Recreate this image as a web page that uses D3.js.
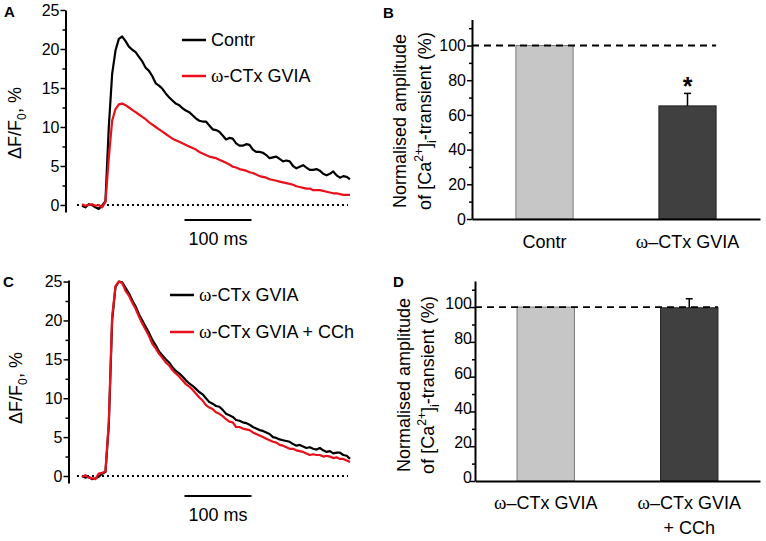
<!DOCTYPE html>
<html>
<head>
<meta charset="utf-8">
<script src="https://cdn.jsdelivr.net/npm/d3@7"></script>
<style>
  body { margin: 0; background: #fff; }
  svg { display: block; }
</style>
</head>
<body>
<script>
// ---- data ----
// time grid of the traces (ms, from start of record)
const sampleMs = [0,5,10,15,20,25,30,35,40,45,50,55,60,65,70,75,80,85,90,95,
  100,105,110,115,120,125,130,135,140,145,150,155,160,165,170,175,180,185,190,195,
  200,205,210,215,220,225,230,235,240,245,250,255,260,265,270,275,280,285,290,295,
  300,305,310,315,320,325,330,335,340,345,350,355,360,365,370,375,380,385,390,395,400];

// panel A, dF/F0 (%)
const contrA = [-0.1,-0.3,0.1,0.0,-0.3,-0.5,-0.1,0.5,10.0,16.8,
  19.8,21.3,21.6,21.0,20.3,19.9,19.6,19.0,18.4,17.6,
  17.2,16.5,15.6,15.3,14.9,14.3,13.8,13.4,13.0,12.8,
  12.4,12.1,11.9,11.5,11.1,10.8,10.7,10.7,10.2,9.7,
  9.6,9.4,8.9,8.4,8.6,8.5,7.9,7.6,7.6,7.8,
  7.7,7.1,6.8,6.8,6.7,6.4,6.0,6.1,6.2,5.9,
  5.6,5.7,5.6,5.0,4.7,4.9,5.1,4.8,4.5,4.5,
  4.6,4.4,4.0,3.8,4.0,4.3,3.8,3.5,3.7,3.6,3.3];
const ctxA = [0.1,-0.1,0.0,0.1,-0.1,0.0,-0.3,0.4,6.0,10.8,
  12.3,12.9,13.0,12.8,12.5,12.2,11.9,11.6,11.3,11.0,
  10.6,10.3,10.0,9.7,9.4,9.1,8.8,8.5,8.3,8.1,
  7.9,7.7,7.5,7.3,7.1,6.8,6.6,6.4,6.2,6.1,
  6.0,5.8,5.6,5.4,5.2,4.9,4.8,4.6,4.5,4.4,
  4.2,4.1,3.9,3.7,3.6,3.5,3.3,3.2,3.1,3.0,
  2.9,2.8,2.7,2.6,2.4,2.3,2.2,2.1,2.1,1.9,
  1.9,1.9,1.8,1.7,1.6,1.5,1.5,1.4,1.3,1.3,1.3];

// panel C, dF/F0 (%)
const ctxC = [0.0,-0.2,-0.1,-0.4,-0.3,-0.1,0.3,0.5,6.5,20.0,
  24.3,25.0,24.9,24.2,23.5,22.6,21.8,20.8,20.0,19.2,
  18.4,17.5,16.8,16.0,15.5,15.0,14.6,14.0,13.5,13.2,
  12.8,12.3,11.9,11.6,11.2,10.8,10.5,10.0,9.5,9.3,
  9.0,8.9,8.5,8.0,7.8,7.6,7.2,7.1,6.9,6.8,
  6.6,6.3,6.1,5.9,5.8,5.6,5.4,5.0,4.9,4.7,
  4.6,4.5,4.4,4.1,3.9,4.0,3.8,3.6,3.7,3.5,
  3.4,3.6,3.3,3.1,3.2,2.9,3.0,3.0,2.7,2.6,2.2];
const ctxCchC = [-0.1,0.1,-0.2,-0.3,-0.4,0.3,0.4,0.6,7.0,20.5,
  24.4,25.0,24.8,23.8,23.2,22.3,21.5,20.5,19.6,18.8,
  18.0,17.0,16.4,15.7,15.2,14.6,14.2,13.6,13.2,12.8,
  12.3,11.8,11.5,11.1,10.6,10.1,9.7,9.1,8.8,8.6,
  8.2,8.0,7.7,7.3,7.0,6.9,6.3,6.3,6.1,6.0,
  5.9,5.6,5.4,5.2,5.0,4.8,4.6,4.4,4.3,4.0,
  3.9,3.7,3.5,3.5,3.3,3.2,3.1,2.9,2.7,2.8,
  2.7,2.7,2.5,2.6,2.5,2.3,2.4,2.2,2.2,2.0,1.8];

const zeroSpanMs = [-7.5, 397];
const scaleBarMs = [153, 253];
const traceTicks = [0,5,10,15,20,25];
const traceMinor = [2.5,7.5,12.5,17.5,22.5];

// bar panels, normalised amplitude (%)
const catsB = ["Contr", "ω–CTx GVIA"];
const meanB = [100, 65.2];
const semB = [0, 7.2];
const catsD = ["ω–CTx GVIA", "ω–CTx GVIA + CCh"];
const meanD = [100, 99.6];
const semD = [0, 5.2];
const ampTicks = [0,20,40,60,80,100];
const ampMinor = [10,30,50,70,90,110];
const barFills = ["#c6c6c6", "#404040"];
const barEdges = ["#7a7a7a", "#222"];

const FONT = "'Liberation Sans', Arial, Helvetica, sans-serif";
const SERIF = "'Liberation Serif', 'Times New Roman', serif";

const svg = d3.select("body").append("svg")
  .attr("width", 766).attr("height", 541)
  .style("font-family", FONT);

// writes label parts; parts: [text, kind] with kind "", "sub", "sup", "omega"
function richText(sel, parts, size){
  var shift = 0;
  parts.forEach(function(p){
    var t = sel.append("tspan").text(p[0]);
    var target = 0;
    if(p[1] == "sub") target = 0.3*size;
    if(p[1] == "sup") target = -0.45*size;
    if(target != shift) { t.attr("dy", target - shift); shift = target; }
    if(p[1] == "sub" || p[1] == "sup") t.attr("font-size", size*0.68);
    if(p[1] == "omega") t.attr("font-family", SERIF).attr("font-size", size*1.05);
  });
  if(shift != 0) sel.append("tspan").attr("dy", -shift).text("");
}

function styleAxis(ax){
  ax.select(".domain").attr("stroke-width", 2);
  ax.selectAll(".tick line").attr("stroke-width", 1.5);
  ax.selectAll("text").attr("font-family", FONT).attr("font-size", 16).attr("fill", "#000");
}

function tracePanel(cfg){
  var g = svg.append("g");
  var x = d3.scaleLinear().domain([0, 400]).range(cfg.xRange);
  var y = d3.scaleLinear().domain(cfg.yDomain).range(cfg.yRange);

  // dotted zero level
  g.append("line")
    .attr("x1", x(zeroSpanMs[0])).attr("x2", x(zeroSpanMs[1]))
    .attr("y1", y(0)).attr("y2", y(0))
    .attr("stroke", "#000").attr("stroke-width", 2)
    .attr("stroke-dasharray", "2,3");

  var ax = g.append("g")
    .attr("transform", "translate(" + cfg.axisX + ",0)")
    .call(d3.axisLeft(y).tickValues(traceTicks).tickSize(5).tickPadding(1).tickSizeOuter(0));
  styleAxis(ax);
  g.append("g")
    .attr("transform", "translate(" + cfg.axisX + ",0)")
    .call(d3.axisLeft(y).tickValues(traceMinor).tickSize(3).tickFormat(""))
    .call(a => a.select(".domain").remove())
    .selectAll(".tick line").attr("stroke-width", 1.5);

  var line = d3.line().x((d, i) => x(sampleMs[i])).y(d => y(d));
  cfg.series.forEach(function(s){
    g.append("path").datum(s.values)
      .attr("d", line)
      .attr("fill", "none")
      .attr("stroke", s.color)
      .attr("stroke-width", 2.2)
      .attr("stroke-linejoin", "round");
  });

  // legend
  cfg.series.forEach(function(s, i){
    var ly = cfg.legendY[i];
    g.append("line")
      .attr("x1", cfg.legendX).attr("x2", cfg.legendX + 24)
      .attr("y1", ly).attr("y2", ly)
      .attr("stroke", s.color).attr("stroke-width", 2.5);
    var t = g.append("text")
      .attr("x", cfg.legendX + 29).attr("y", ly + 6)
      .attr("font-size", 18);
    richText(t, s.label, 18);
  });

  // scale bar
  g.append("line")
    .attr("x1", x(scaleBarMs[0])).attr("x2", x(scaleBarMs[1]))
    .attr("y1", cfg.scaleBarY).attr("y2", cfg.scaleBarY)
    .attr("stroke", "#000").attr("stroke-width", 2);
  g.append("text")
    .attr("x", x((scaleBarMs[0] + scaleBarMs[1]) / 2))
    .attr("y", cfg.scaleBarY + 25)
    .attr("text-anchor", "middle").attr("font-size", 18)
    .text((scaleBarMs[1] - scaleBarMs[0]) + " ms");

  // y label
  var yl = g.append("text")
    .attr("transform", "translate(" + cfg.yLabelPos[0] + "," + cfg.yLabelPos[1] + ") rotate(-90)")
    .attr("text-anchor", "middle").attr("font-size", 18);
  richText(yl, [["ΔF/F", ""], ["0", "sub"], [", %", ""]], 18);

  g.append("text").attr("x", cfg.letterPos[0]).attr("y", cfg.letterPos[1])
    .attr("font-weight", "bold").attr("font-size", 15).text(cfg.letter);
}

function barPanel(cfg){
  var g = svg.append("g");
  var y = d3.scaleLinear().domain([0, 115]).range(cfg.yRange);
  var x = d3.scaleBand().domain(cfg.cats).range(cfg.xRange)
    .paddingInner(0.6).paddingOuter(cfg.padOuter);

  // bars
  g.selectAll(".bar").data(cfg.means).enter()
    .append("rect")
    .attr("class", "bar")
    .attr("x", (d, i) => x(cfg.cats[i]))
    .attr("width", x.bandwidth())
    .attr("y", d => y(d))
    .attr("height", d => y(0) - y(d))
    .attr("fill", (d, i) => barFills[i])
    .attr("stroke", (d, i) => barEdges[i])
    .attr("stroke-width", 1);

  // error bars (upper only)
  cfg.means.forEach(function(m, i){
    if(cfg.sem[i] <= 0) return;
    var cx = x(cfg.cats[i]) + x.bandwidth() / 2;
    g.append("line").attr("x1", cx).attr("x2", cx)
      .attr("y1", y(m)).attr("y2", y(m + cfg.sem[i]))
      .attr("stroke", "#000").attr("stroke-width", 1.5);
    g.append("line").attr("x1", cx - 3.5).attr("x2", cx + 3.5)
      .attr("y1", y(m + cfg.sem[i])).attr("y2", y(m + cfg.sem[i]))
      .attr("stroke", "#000").attr("stroke-width", 1.5);
    if(cfg.star[i]){
      g.append("text").attr("x", cx).attr("y", y(m + cfg.sem[i]) + 2)
        .attr("text-anchor", "middle").attr("font-weight", "bold")
        .attr("font-size", 25).text("*");
    }
  });

  // dashed 100 % line
  var last = cfg.cats[cfg.cats.length - 1];
  g.append("line")
    .attr("x1", cfg.xRange[0]).attr("x2", x(last) + x.bandwidth())
    .attr("y1", y(100)).attr("y2", y(100))
    .attr("stroke", "#000").attr("stroke-width", 1.8)
    .attr("stroke-dasharray", "7,5");

  // axes
  var ax = g.append("g")
    .attr("transform", "translate(" + cfg.xRange[0] + ",0)")
    .call(d3.axisLeft(y).tickValues(ampTicks).tickSize(5).tickPadding(1).tickSizeOuter(0));
  styleAxis(ax);
  if(cfg.labelsOnTick){
    ax.selectAll(".tick text").attr("x", -3).attr("dy", "0.1em");
  }
  g.append("g")
    .attr("transform", "translate(" + cfg.xRange[0] + ",0)")
    .call(d3.axisLeft(y).tickValues(ampMinor).tickSize(3).tickFormat(""))
    .call(a => a.select(".domain").remove())
    .selectAll(".tick line").attr("stroke-width", 1.5);

  var bx = g.append("g")
    .attr("transform", "translate(0," + y(0) + ")")
    .call(d3.axisBottom(x).tickSize(0).tickFormat("").tickSizeOuter(0));
  bx.select(".domain").attr("stroke-width", 2);

  // category labels
  cfg.cats.forEach(function(c, i){
    var cx = x(c) + x.bandwidth() / 2;
    cfg.catLines[i].forEach(function(parts, k){
      var t = g.append("text").attr("x", cx).attr("y", cfg.catY + k * 25)
        .attr("text-anchor", "middle").attr("font-size", 18);
      richText(t, parts, 18);
    });
  });

  // y label, two lines
  g.append("text")
    .attr("transform", "translate(" + cfg.yLabelX[0] + "," + cfg.yLabelMid + ") rotate(-90)")
    .attr("text-anchor", "middle").attr("font-size", 18)
    .text("Normalised amplitude");
  var l2 = g.append("text")
    .attr("transform", "translate(" + cfg.yLabelX[1] + "," + cfg.yLabelMid + ") rotate(-90)")
    .attr("text-anchor", "middle").attr("font-size", 18);
  richText(l2, [["of [Ca", ""], ["2+", "sup"], ["]", ""], ["i", "sub"], ["-transient (%)", ""]], 18);

  g.append("text").attr("x", cfg.letterPos[0]).attr("y", cfg.letterPos[1])
    .attr("font-weight", "bold").attr("font-size", 15).text(cfg.letter);
}

tracePanel({
  letter: "A", letterPos: [4, 17],
  xRange: [82, 350], yDomain: [-0.9, 25], yRange: [212, 10], axisX: 65.5,
  series: [
    { values: contrA, color: "#000", label: [["Contr", ""]] },
    { values: ctxA, color: "#e8101a", label: [["ω", "omega"], ["-CTx GVIA", ""]] }
  ],
  legendX: 182, legendY: [40, 76],
  scaleBarY: 220, yLabelPos: [21, 123]
});

tracePanel({
  letter: "C", letterPos: [3, 287],
  xRange: [82, 350], yDomain: [-0.9, 25.2], yRange: [483, 280], axisX: 68.5,
  series: [
    { values: ctxC, color: "#000", label: [["ω", "omega"], ["-CTx GVIA", ""]] },
    { values: ctxCchC, color: "#e8101a", label: [["ω", "omega"], ["-CTx GVIA + CCh", ""]] }
  ],
  legendX: 170, legendY: [295, 332],
  scaleBarY: 496, yLabelPos: [22, 388]
});

barPanel({
  letter: "B", letterPos: [383, 18],
  cats: catsB, means: meanB, sem: semB, star: [false, true],
  yRange: [219, 19.5], xRange: [472, 760], padOuter: 0.307,
  catLines: [[[["Contr", ""]]], [[["ω", "omega"], ["–CTx GVIA", ""]]]],
  catY: 248, labelsOnTick: false,
  yLabelX: [406, 431], yLabelMid: 121
});

barPanel({
  letter: "D", letterPos: [393, 287],
  cats: catsD, means: meanD, sem: semD, star: [false, false],
  yRange: [481, 281], xRange: [475, 760], padOuter: 0.293,
  catLines: [[[["ω", "omega"], ["–CTx GVIA", ""]]],
             [[["ω", "omega"], ["–CTx GVIA", ""]], [["+ CCh", ""]]]],
  catY: 509, labelsOnTick: true,
  yLabelX: [410, 434], yLabelMid: 385
});
</script>
</body>
</html>
